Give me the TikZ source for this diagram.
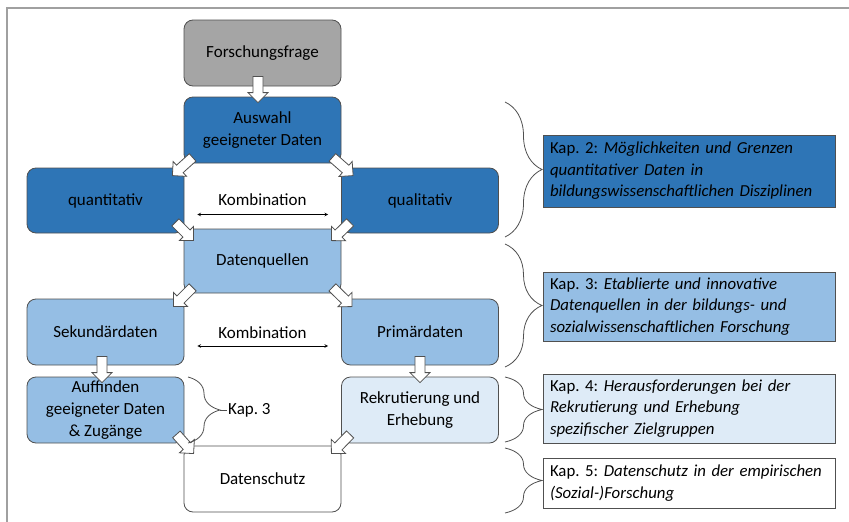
\documentclass[tikz,border=0pt]{standalone}
\usepackage{fontspec}
\setmainfont{Carlito}
\usetikzlibrary{calc,decorations.pathreplacing}
\definecolor{dunkelblau}{HTML}{2E75B6}
\definecolor{mittelblau}{HTML}{95BEE4}
\definecolor{hellblau}{HTML}{DEEBF7}
\definecolor{grau}{HTML}{A5A5A5}
\definecolor{rand}{HTML}{505050}
\definecolor{rahmen}{HTML}{A0A0A0}
\newcommand{\blockpfeil}[2]{\draw[fat] let \p1=(#1),\p2=(#2),\n1={atan2(\y2-\y1,\x2-\x1)},\n2={veclen(\x2-\x1,\y2-\y1)} in [shift={(\p1)},rotate=\n1] (0,-5)--(\n2-10,-5)--(\n2-10,-10)--(\n2,0)--(\n2-10,10)--(\n2-10,5)--(0,5)--cycle;}
\begin{document}
\frenchspacing
\begin{tikzpicture}[x=1pt,y=-1pt,
	box/.style={draw=rand,line width=0.8pt,rounded corners=9pt,minimum width=157pt,minimum height=66pt,align=center,inner sep=2pt,font=\fontsize{17}{22}\selectfont},
	kap/.style={draw=rand,line width=0.8pt,text width=278pt,inner xsep=7pt,inner ysep=2pt,align=left,font=\fontsize{16.8}{21.5}\selectfont},
	fat/.style={draw=rand,fill=white,line width=0.8pt},
	klammer/.style={decorate,decoration={brace,amplitude=#1},draw=rand,line width=0.8pt},
	kombi/.style={>=stealth,<->,line width=0.6pt},font=\fontsize{17}{22}\selectfont]
	\useasboundingbox (0,0) rectangle (849,522);
	\draw[rahmen,line width=2pt] (7,522)--(7,8)--(849,8);
	
	\node[box,fill=grau] (frage) at (262.5,53) {Forschungsfrage};
	\node[box,fill=dunkelblau] (auswahl) at (262.5,130) {Auswahl\\geeigneter Daten};
	\node[box,fill=dunkelblau,minimum height=65pt] (quanti) at (105.5,200.5) {quantitativ};
	\node[box,fill=dunkelblau,minimum height=65pt] (quali) at (420,200.5) {qualitativ};
	\node[box,fill=mittelblau,minimum height=64pt] (quellen) at (262.5,261) {Datenquellen};
	\node[box,fill=mittelblau] (sek) at (105.5,332) {Sekundärdaten};
	\node[box,fill=mittelblau] (prim) at (420,332) {Primärdaten};
	\node[box,fill=mittelblau] (auff) at (105.5,410) {Auffinden\\geeigneter Daten\\\& Zugänge};
	\node[box,fill=hellblau] (rekr) at (420,410) {Rekrutierung und\\Erhebung};
	\node[box,fill=white] (schutz) at (262.5,479) {Datenschutz};
	
	\node (kombi1) at (262.5,200) {Kombination};
	\node (kombi2) at (262.5,333) {Kombination};
	\draw[kombi] ([xshift=13pt,yshift=-14pt]quanti.east)--([xshift=-13pt,yshift=-14pt]quali.west);
	\draw[kombi] ([xshift=13pt,yshift=-14pt]sek.east)--([xshift=-13pt,yshift=-14pt]prim.west);
	
	\blockpfeil{[xshift=-4.5pt,yshift=10pt]frage.south}{[xshift=-4.5pt,yshift=-6pt]auswahl.north}
	\blockpfeil{[xshift=9pt,yshift=6pt]auswahl.south west}{[xshift=-12pt,yshift=-8pt]quanti.north east}
	\blockpfeil{[xshift=-9pt,yshift=6pt]auswahl.south east}{[xshift=12pt,yshift=-8pt]quali.north west}
	\blockpfeil{[xshift=-9pt,yshift=11pt]quanti.south east}{[xshift=10pt,yshift=-12pt]quellen.north west}
	\blockpfeil{[xshift=9pt,yshift=11pt]quali.south west}{[xshift=-10pt,yshift=-12pt]quellen.north east}
	\blockpfeil{[xshift=9pt,yshift=6pt]quellen.south west}{[xshift=-11pt,yshift=-8pt]sek.north east}
	\blockpfeil{[xshift=-9pt,yshift=6pt]quellen.south east}{[xshift=11pt,yshift=-8pt]prim.north west}
	\blockpfeil{[xshift=-3.5pt,yshift=9pt]sek.south}{[xshift=-3.5pt,yshift=-6pt]auff.north}
	\blockpfeil{[yshift=9pt]prim.south}{[yshift=-6pt]rekr.north}
	\blockpfeil{[xshift=-8pt,yshift=9pt]auff.south east}{[xshift=10pt,yshift=-8pt]schutz.north west}
	\blockpfeil{[xshift=9pt,yshift=9pt]rekr.south west}{[xshift=-10pt,yshift=-8pt]schutz.north east}
	
	\node[anchor=west,inner sep=1pt] (kapdrei) at (227,410) {Kap. 3};
	\draw[klammer=32pt] (188,377)--(188,443);
	\draw[rand,line width=0.8pt] (220,410)--(kapdrei.west);
	
	\foreach \oben/\unten in {102/237,244/367,377/442,448/513}
	\draw[klammer=37pt] (505,\oben)--(505,\unten);
	
	\node[kap,fill=dunkelblau,minimum height=72pt] (kap2) at (689,171) {Kap. 2: \textit{Möglichkeiten und Grenzen}\\\textit{quantitativer Daten in}\\\textit{bildungswissenschaftlichen Disziplinen}};
	\node[kap,fill=mittelblau,minimum height=69pt] (kap3) at (689,306.5) {Kap. 3: \textit{Etablierte und innovative}\\\textit{Datenquellen in der bildungs- und}\\\textit{sozialwissenschaftlichen Forschung}};
	\node[kap,fill=hellblau,minimum height=69pt] (kap4) at (689,408.5) {Kap. 4: \textit{Herausforderungen bei der}\\\textit{Rekrutierung und Erhebung}\\\textit{spezifischer Zielgruppen}};
	\node[kap,fill=white,minimum height=50pt] (kap5) at (689,483) {Kap. 5: \textit{Datenschutz in der empirischen}\\\textit{(Sozial-)Forschung}};
\end{tikzpicture}
\end{document}
